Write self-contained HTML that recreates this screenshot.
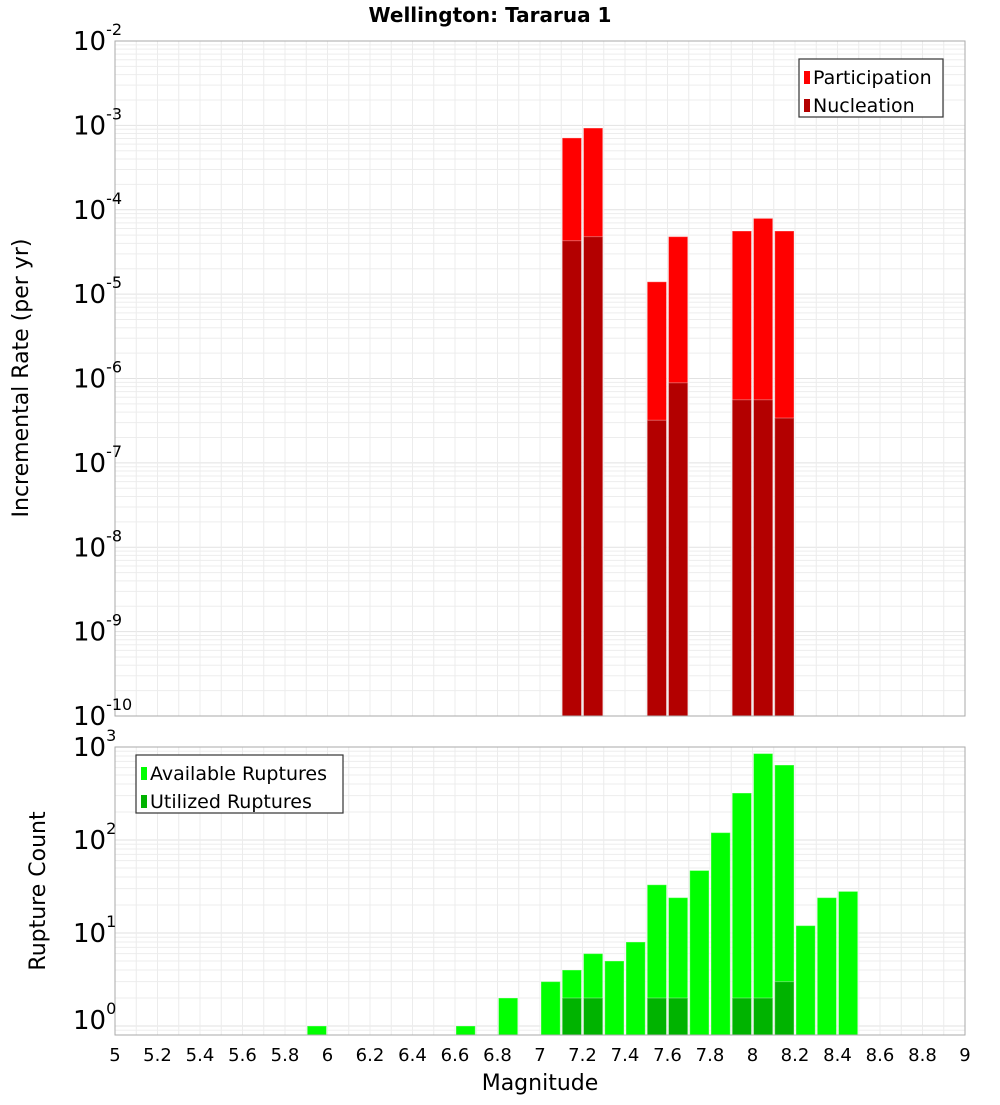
<!DOCTYPE html>
<html><head><meta charset="utf-8"><style>
body{margin:0;background:#fff;font-family:"Liberation Sans","DejaVu Sans",sans-serif}
svg text{font-family:"DejaVu Sans","Liberation Sans",sans-serif}
</style></head><body>
<svg id="c" width="1000" height="1100" xmlns="http://www.w3.org/2000/svg">
<text x="490" y="22" text-anchor="middle" font-size="20" font-weight="bold" font-family="Liberation Sans">Wellington: Tararua 1</text>
<g id="top"></g>
<g id="bot"></g>
<text transform="translate(28,378) rotate(-90)" text-anchor="middle" font-size="22">Incremental Rate (per yr)</text>
<text transform="translate(45,891) rotate(-90)" text-anchor="middle" font-size="22">Rupture Count</text>
<text x="540" y="1090" text-anchor="middle" font-size="22">Magnitude</text>
</svg>
<script>
const rateMags=[7.1,7.2,7.5,7.6,7.9,8.0,8.1];
const participation=[7.1e-4,9.3e-4,1.4e-5,4.8e-5,5.6e-5,7.9e-5,5.6e-5];
const nucleation=[4.3e-5,4.8e-5,3.2e-7,8.9e-7,5.6e-7,5.6e-7,3.4e-7];
const countMags=[5.9,6.6,6.8,7.0,7.1,7.2,7.3,7.4,7.5,7.6,7.7,7.8,7.9,8.0,8.1,8.2,8.3,8.4];
const available=[1,1,2,3,4,6,5,8,33,24,47,120,320,850,640,12,24,28];
const utilMags=[7.1,7.2,7.5,7.6,7.9,8.0,8.1];
const utilized=[2,2,2,2,2,2,3];
const xTicks=[5,5.2,5.4,5.6,5.8,6,6.2,6.4,6.6,6.8,7,7.2,7.4,7.6,7.8,8,8.2,8.4,8.6,8.8,9];
const binW=0.1;
const NS="http://www.w3.org/2000/svg";
const X0=115,X1=965;
const x=m=>X0+(m-5)/4*(X1-X0);
function mk(p,t,a){const e=document.createElementNS(NS,t);for(const k in a)e.setAttribute(k,a[k]);p.appendChild(e);return e;}
function panel(g,top,bot,lmin,lmax,yOf){
  const bg=mk(g,'rect',{x:X0,y:top,width:X1-X0,height:bot-top,fill:'#fff'});
  
  
  for(let d=Math.floor(lmin);d<lmax;d++)for(let k=1;k<10;k++){const v=d+Math.log10(k);if(v<lmin||v>lmax)continue;const yy=yOf(Math.pow(10,v));
    const l=mk(g,'line',{x1:X0,x2:X1,y1:yy,y2:yy,stroke:k==1?'#e2e2e2':'#ededed','stroke-width':1});
    
    }
  for(let m=5.1;m<9;m+=0.1){const xx=x(m);const l=mk(g,'line',{x1:xx,x2:xx,y1:top,y2:bot,stroke:'#ececec','stroke-width':1});
    
    }
}
function bar(g,m,v,yOf,bot,col,name){
  const y=yOf(v);
  const r=mk(g,'rect',{x:x(m)+1,y:y,width:x(m+binW)-x(m)-2,height:bot-y,fill:col,stroke:'#ffffff','stroke-opacity':0.35,'stroke-width':1});
  
  
}
function frame(g,top,bot){const f=mk(g,'rect',{x:X0,y:top,width:X1-X0,height:bot-top,fill:'none',stroke:'#aaa','stroke-width':1});
  
  }
function ytick(g,yy,exp,name){const t=mk(g,'text',{x:73,y:yy+9,'font-size':26});t.textContent='10';
  
  
  const s=mk(t,'tspan',{dy:-15,'font-size':16});s.textContent=exp;}
function legend(g,x0,y0,w,items){
  const b=mk(g,'rect',{x:x0,y:y0,width:w,height:58,fill:'#fff',stroke:'#333','stroke-width':1.2});
  
  
  items.forEach((it,i)=>{const yy=y0+18+i*28;
    const sw=mk(g,'rect',{x:x0+5,y:yy-6,width:6,height:13,fill:it[1]});
    
    
    const t=mk(g,'text',{x:x0+14,y:yy+7,'font-size':19});t.textContent=it[0];
    
    });
}
// top
const T=document.getElementById('top');const tT=41,tB=716;
const yT=v=>tT+(-2-Math.log10(v))/8*(tB-tT);
panel(T,tT,tB,-10,-2,yT);
rateMags.forEach((m,i)=>bar(T,m,participation[i],yT,tB,'#ff0000','bar-participation'));
rateMags.forEach((m,i)=>bar(T,m,nucleation[i],yT,tB,'#b30000','bar-nucleation'));
frame(T,tT,tB);
for(let e=-10;e<=-2;e++)ytick(T,yT(Math.pow(10,e)),String(e),'y-tick-rate');
legend(T,799,59,144,[['Participation','#ff0000'],['Nucleation','#b30000']]);
// bottom
const B=document.getElementById('bot');const bT=747,bB=1035;
const dec=(1026-747)/3;
const yB=v=>1026-Math.log10(v)*dec;
const lminB=(1026-bB)/dec;
panel(B,bT,bB,lminB,3,yB);
countMags.forEach((m,i)=>bar(B,m,available[i],yB,bB,'#00ff00','bar-available'));
utilMags.forEach((m,i)=>bar(B,m,utilized[i],yB,bB,'#00b300','bar-utilized'));
frame(B,bT,bB);
for(let e=0;e<=3;e++)ytick(B,yB(Math.pow(10,e))+(e==0?-6:0),String(e),'y-tick-count');
legend(B,136,755,207,[['Available Ruptures','#00ff00'],['Utilized Ruptures','#00b300']]);
xTicks.forEach(m=>{const t=mk(B,'text',{x:x(m),y:1061,'text-anchor':'middle','font-size':18});t.textContent=String(m);
  
  });
</script>
</body></html>
